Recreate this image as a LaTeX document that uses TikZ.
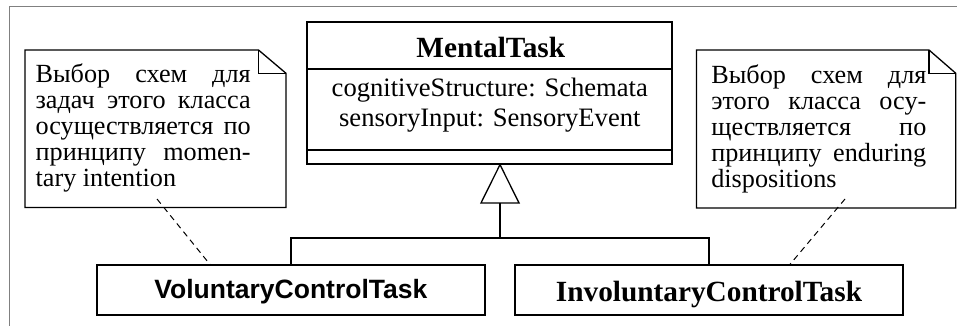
\documentclass[tikz,border=0pt]{standalone}
\usepackage{fontspec}
\setmainfont{Liberation Serif}
\newfontfamily\arialfont{Liberation Sans}
\newcommand\jline[1]{\hbox to 215pt{#1}}
\begin{document}
\begin{tikzpicture}[x=1pt,y=-1pt,line width=1.3pt,line join=miter,
  classbox/.style={draw,rectangle,inner sep=0pt},
  notetext/.style={anchor=north west,inner sep=0pt},
  notefont/.style={font=\fontsize{26.2}{26}\selectfont},
  attrtext/.style={anchor=base,inner sep=0pt,font=\fontsize{26.6}{30}\selectfont},
  titletext/.style={anchor=base,inner sep=0pt,font=\fontsize{29.3}{32}\selectfont\bfseries},
  dashlink/.style={line width=1pt,dash pattern=on 6pt off 4.5pt},
  frameline/.style={draw=black!50,line width=1pt}]
\useasboundingbox (0,0) rectangle (957,326);
% outer frame
\draw[frameline] (9,326) -- (9,7) -- (957,7);

% MentalTask class
\node[classbox,minimum width=365pt,minimum height=142pt] (mt) at (489.5,93) {};
\coordinate (s1) at (0,69);
\coordinate (s2) at (0,150);
\draw (mt.west |- s1) -- (mt.east |- s1);
\draw (mt.west |- s2) -- (mt.east |- s2);
\node[titletext] (mttitle) at (490.8,57.7) {MentalTask};
\node[attrtext] (attr1) at (489.8,96) {cognitiveStructure: Schemata};
\node[attrtext] (attr2) at (489.8,126.7) {sensoryInput: SensoryEvent};

% subclasses
\node[classbox,minimum width=388pt,minimum height=50pt,
      font=\arialfont\fontsize{26.5}{30}\selectfont\bfseries,
      text height=18pt,text depth=1.4pt] (vol) at (290.9,290) {VoluntaryControlTask};
\node[classbox,minimum width=388pt,minimum height=50pt,
      font=\fontsize{29.3}{32}\selectfont\bfseries,
      text height=24pt,text depth=0.6pt] (inv) at (709,290) {InvoluntaryControlTask};

% generalization
\coordinate (apex) at ([xshift=10.5pt]mt.south);
\draw (apex) -- ++(-19,38.3) -- ++(38,0) -- cycle;
\coordinate (tb) at (500,203.3);
\coordinate (junc) at (500,238);
\draw (tb) -- (junc);
\draw (vol.north) |- (junc) -| (inv.north);

% left note
\draw (25,50) -- (258.5,50) -- (286,73.3) -- (286,207.5) -- (25,207.5) -- cycle;
\draw (258.5,50) -- (258.5,73.3) -- (286,73.3);
\node[notetext,notefont] (nltext) at (35,62.3) {\vbox{\lineskiplimit=-30pt
  \jline{\rule{0pt}{20pt}Выбор\hfill схем\hfill для}
  \jline{задач\hfill этого\hfill класса}
  \jline{осуществляется\hfill по}
  \jline{принципу\hfill momen-}
  \jline{tary intention\hfil}}};

% right note
\draw (696.5,50) -- (929,50) -- (955.8,73.3) -- (955.8,208) -- (696.5,208) -- cycle;
\draw (929,50) -- (929,73.3) -- (955.8,73.3);
\node[notetext,notefont] (nrtext) at (710.7,62.7) {\vbox{\lineskiplimit=-30pt
  \jline{\rule{0pt}{20pt}Выбор\hfill схем\hfill для}
  \jline{этого\hfill класса\hfill осу-}
  \jline{ществляется\hfill по}
  \jline{принципу\hfill enduring}
  \jline{dispositions\hfil}}};

% note links
\coordinate (nlA) at (157,199);
\coordinate (nrA) at (845,199);
\draw[dashlink] (nlA) -- ([xshift=-81pt]vol.north);
\draw[dashlink] (nrA) -- ([xshift=81pt]inv.north);
\end{tikzpicture}
\end{document}
